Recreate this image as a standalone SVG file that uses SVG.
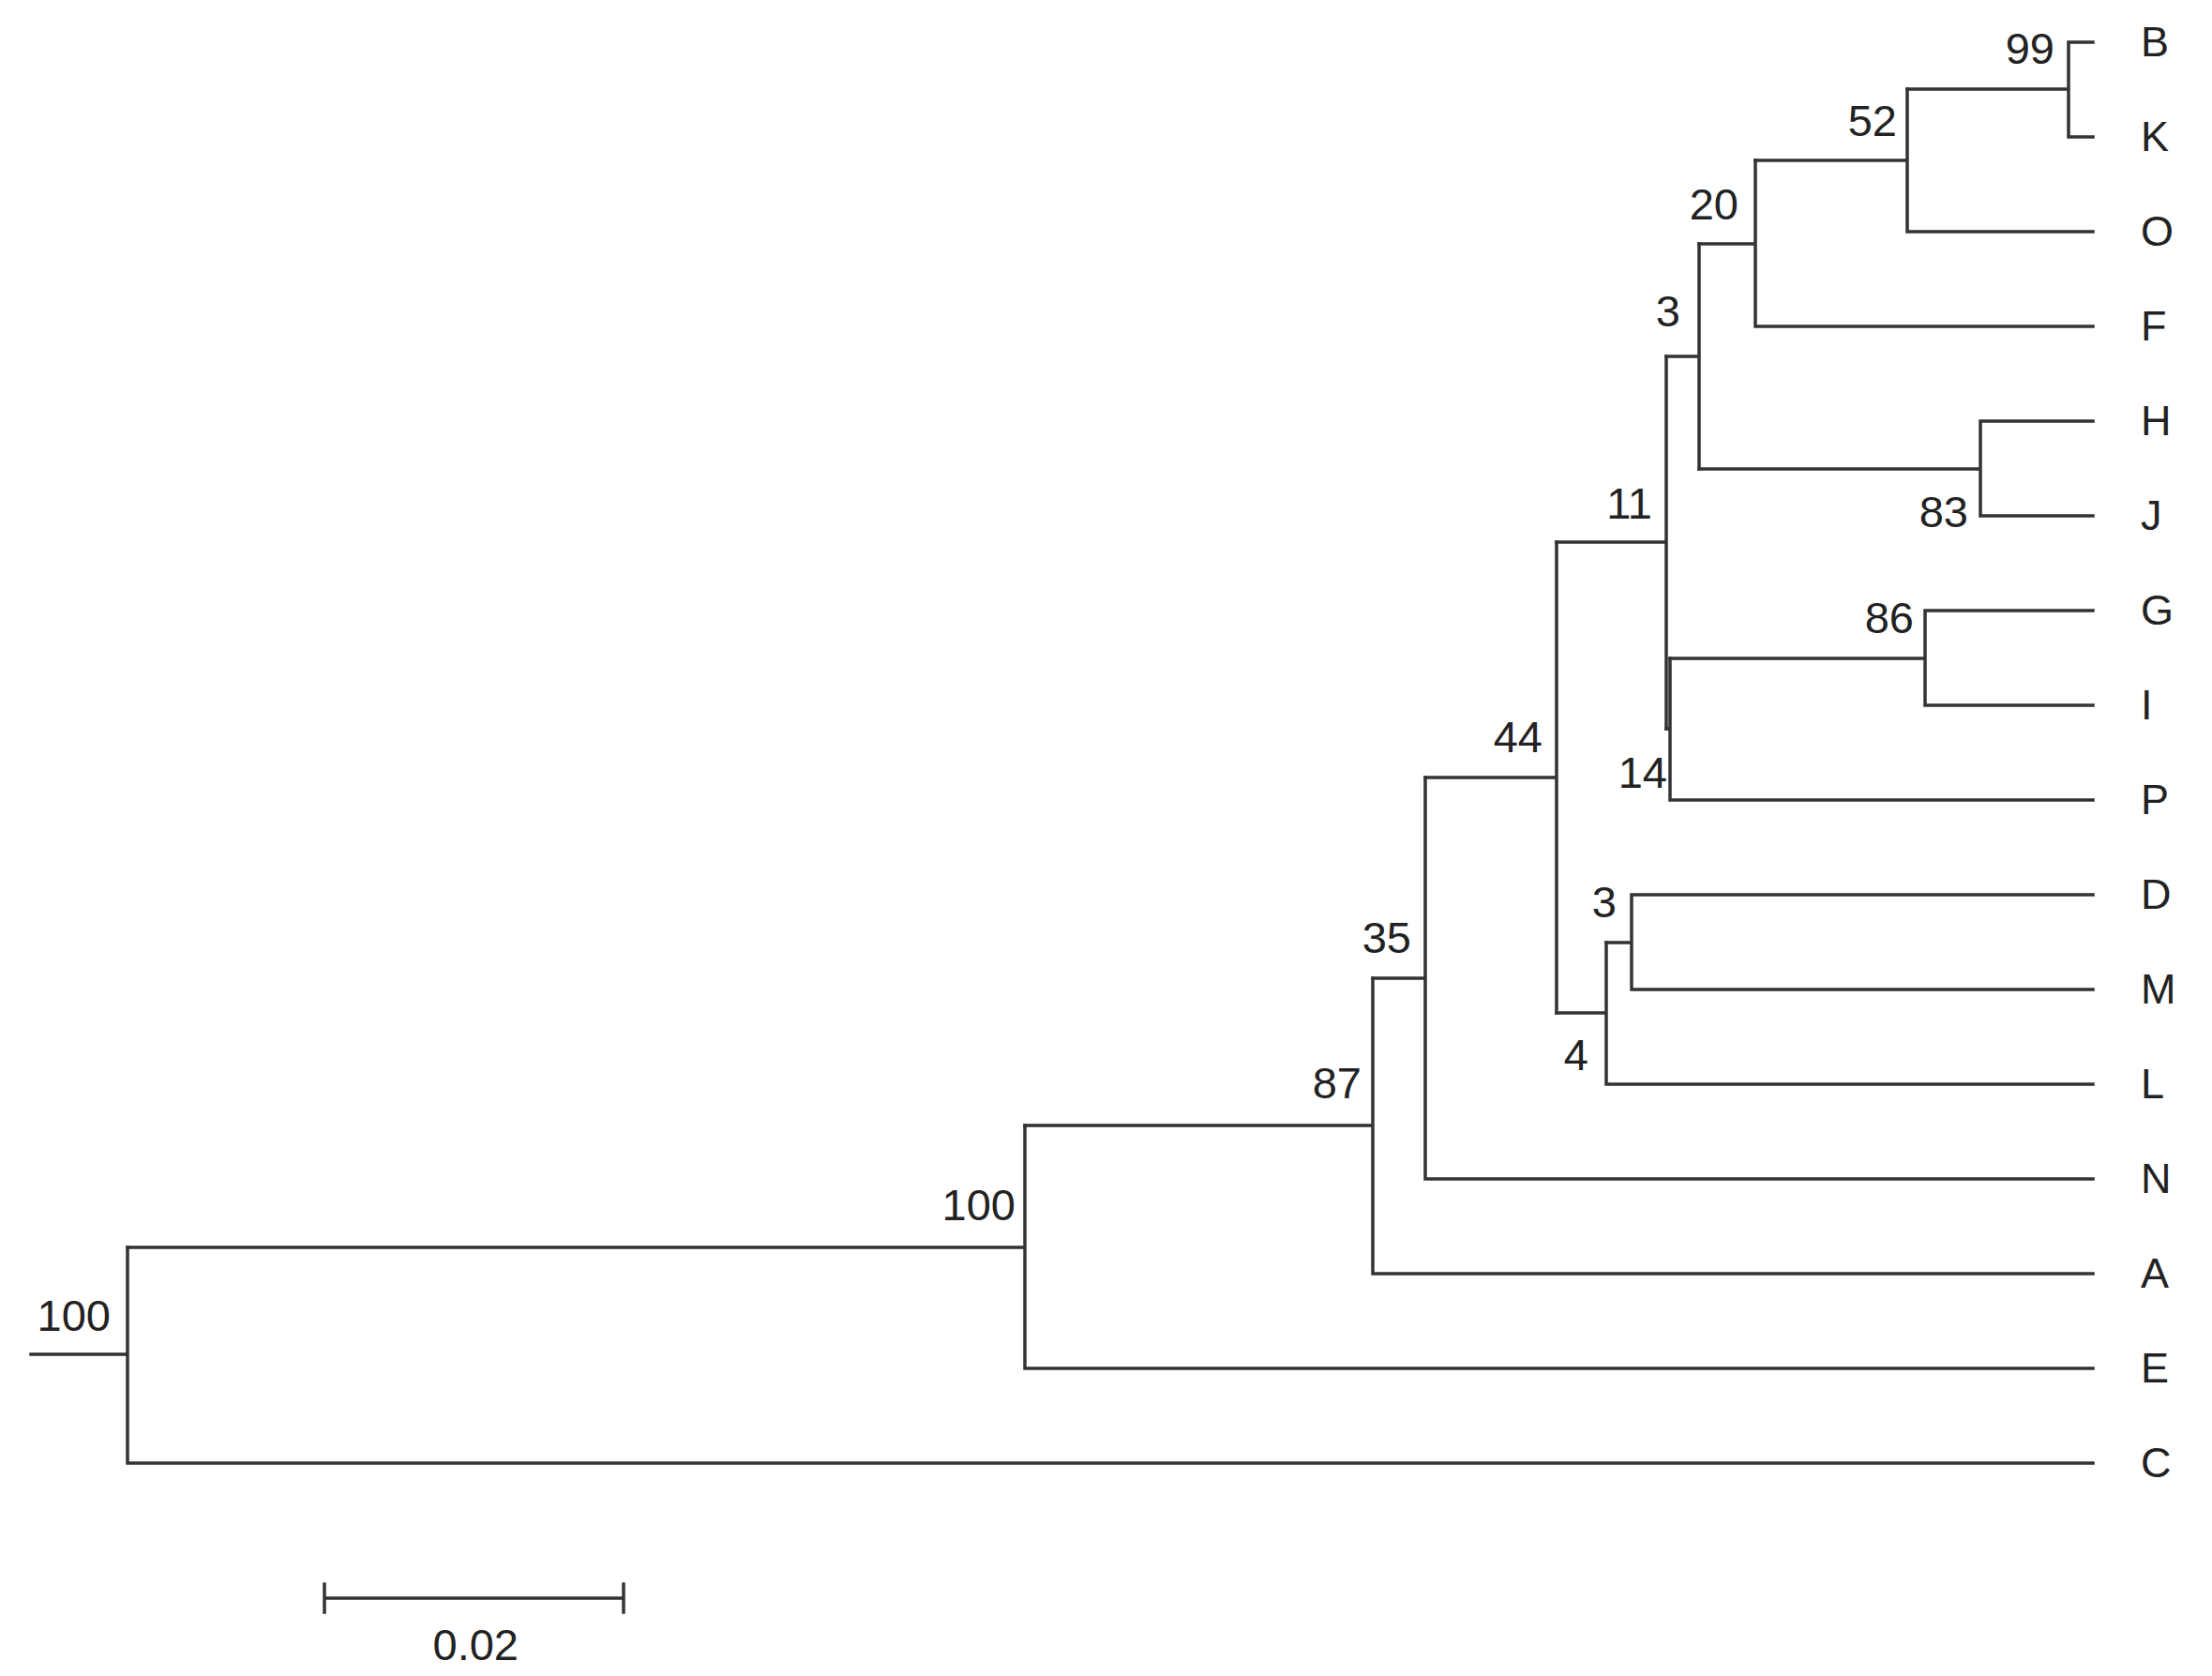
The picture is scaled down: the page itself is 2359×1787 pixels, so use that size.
<svg xmlns="http://www.w3.org/2000/svg" width="2359" height="1787" viewBox="0 0 2359 1787">
<style>
.e{fill:none;stroke:#333;stroke-width:3.5;stroke-linecap:square}
.b{font-family:"Liberation Sans",Arial,sans-serif;font-size:47px;fill:#222;text-anchor:end}
.l{font-family:"Liberation Sans",Arial,sans-serif;font-size:45px;fill:#222}
</style>
<rect width="2359" height="1787" fill="#fff"/>
<g id="connectors" class="e">
<path d="M33 1444H136M136 1330V1560H2232"/>
<path d="M136 1330H1093M1093 1200V1459H2232"/>
<path d="M1093 1200H1464M1464 1043V1358H2232"/>
<path d="M1464 1043H1520M1520 829V1257H2232"/>
<path d="M1520 829H1660M1660 578V1080"/>
<path d="M1660 1080H1713M1713 1005V1156H2232"/>
<path d="M1713 1005H1740M1740 954V1055M1740 954H2232M1740 1055H2232"/>
<path d="M1660 578H1777M1777 380V777"/>
<path d="M1777 777H1781M1781 702V853H2232"/>
<path d="M1781 702H2053M2053 651V752M2053 651H2232M2053 752H2232"/>
<path d="M1777 380H1812M1812 260V500"/>
<path d="M1812 500H2112M2112 449V550M2112 449H2232M2112 550H2232"/>
<path d="M1812 260H1872M1872 171V348H2232"/>
<path d="M1872 171H2034M2034 95V247H2232"/>
<path d="M2034 95H2206M2206 45V146M2206 45H2232M2206 146H2232"/>
<path d="M346 1704H665M346 1689V1719M665 1689V1719"/>
</g>
<g id="bootstrap">
<text class="b" x="2191" y="68">99</text>
<text class="b" x="2023" y="145">52</text>
<text class="b" x="1854" y="234">20</text>
<text class="b" x="1792" y="348">3</text>
<text class="b" x="1762" y="553">11</text>
<text class="b" x="2099" y="562">83</text>
<text class="b" x="2041" y="675">86</text>
<text class="b" x="1645" y="802">44</text>
<text class="b" x="1778" y="840">14</text>
<text class="b" x="1724" y="978">3</text>
<text class="b" x="1505" y="1016">35</text>
<text class="b" x="1694" y="1141">4</text>
<text class="b" x="1452" y="1171">87</text>
<text class="b" x="1083" y="1301">100</text>
<text class="b" x="118" y="1419">100</text>
<text class="b" x="553" y="1770">0.02</text>
</g>
<g id="leaves" class="l">
<text x="2283" y="60">B</text>
<text x="2283" y="161">K</text>
<text x="2283" y="262">O</text>
<text x="2283" y="363">F</text>
<text x="2283" y="464">H</text>
<text x="2283" y="565">J</text>
<text x="2283" y="666">G</text>
<text x="2283" y="767">I</text>
<text x="2283" y="868">P</text>
<text x="2283" y="969">D</text>
<text x="2283" y="1070">M</text>
<text x="2283" y="1171">L</text>
<text x="2283" y="1272">N</text>
<text x="2283" y="1373">A</text>
<text x="2283" y="1474">E</text>
<text x="2283" y="1575">C</text>
</g>
</svg>
